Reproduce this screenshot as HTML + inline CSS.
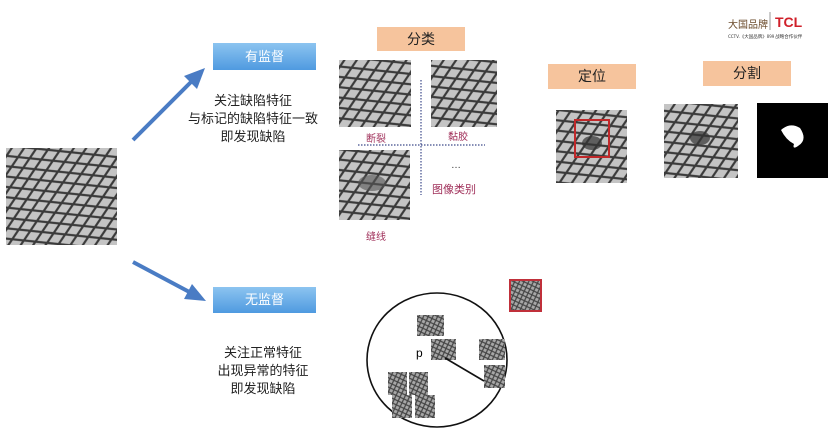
<!DOCTYPE html>
<html><head><meta charset="utf-8"><style>
body{margin:0;background:#fff;width:832px;height:440px;overflow:hidden;position:relative;font-family:"Liberation Sans","Noto Sans CJK SC",sans-serif}
.a{position:absolute}
.box{position:absolute;background:#f6c49d;text-align:center;font-size:14px;color:#222}
.blue{position:absolute;background:linear-gradient(#8cc4f0,#4f9ae0);color:#fff;text-align:center;font-size:13px}
.t{position:absolute;font-size:13px;color:#222;text-align:center;line-height:18px}
.lab{position:absolute;font-size:10px;color:#a0305a}
</style></head><body>
<svg class="a" style="left:0;top:0" width="832" height="440">
<defs>
<pattern id="m" width="20" height="12" patternUnits="userSpaceOnUse" patternTransform="rotate(-25)">
<rect width="20" height="12" fill="#c4c4c4"/>
<path d="M0 0L20 12M20 0L0 12M-10 6L0 12M20 12L30 6" stroke="#3a3a3a" stroke-width="2.2"/>
</pattern>
<pattern id="s" width="6" height="6" patternUnits="userSpaceOnUse" patternTransform="rotate(-20)">
<rect width="6" height="6" fill="#a8a8a8"/>
<path d="M0 0L6 6M6 0L0 6" stroke="#444" stroke-width="1.2"/>
</pattern>
</defs>
<rect x="6" y="148" width="111" height="97" fill="url(#m)"/>
<line x1="133" y1="140" x2="196" y2="77" stroke="#4a7cc4" stroke-width="4"/>
<polygon points="205,68 184,76 197,89" fill="#4a7cc4"/>
<line x1="133" y1="262" x2="195" y2="295" stroke="#4a7cc4" stroke-width="4"/>
<polygon points="206,301 184,299 192,284" fill="#4a7cc4"/>
<rect x="339" y="60" width="72" height="67" fill="url(#m)"/>
<rect x="431" y="60" width="66" height="67" fill="url(#m)"/>
<rect x="339" y="150" width="71" height="70" fill="url(#m)"/>
<ellipse cx="372" cy="183" rx="14" ry="8" fill="#555" opacity=".6"/>
<line x1="358" y1="145" x2="485" y2="145" stroke="#3d4a8a" stroke-width="1.2" stroke-dasharray="1.5,1.5"/>
<line x1="421" y1="80" x2="421" y2="195" stroke="#3d4a8a" stroke-width="1.2" stroke-dasharray="1.5,1.5"/>
<rect x="556" y="110" width="71" height="73" fill="url(#m)"/>
<ellipse cx="592" cy="143" rx="10" ry="7" fill="#333" opacity=".7"/>
<rect x="575" y="120" width="34" height="37" fill="none" stroke="#c0282a" stroke-width="2"/>
<rect x="664" y="104" width="74" height="74" fill="url(#m)"/>
<ellipse cx="700" cy="138" rx="10" ry="7" fill="#333" opacity=".7"/>
<rect x="757" y="103" width="71" height="75" fill="#000"/>
<path d="M781 130 Q790 122 800 128 Q808 140 798 146 Q792 150 794 144 Q786 140 781 130Z" fill="#fff"/>
<ellipse cx="437" cy="360" rx="70" ry="67" fill="none" stroke="#111" stroke-width="1.6"/>
<rect x="510" y="280" width="31" height="31" fill="url(#s)" stroke="#c0303a" stroke-width="2"/>
<rect x="417" y="315" width="27" height="21" fill="url(#s)"/>
<rect x="431" y="339" width="25" height="21" fill="url(#s)"/>
<rect x="479" y="339" width="26" height="21" fill="url(#s)"/>
<rect x="484" y="365" width="21" height="23" fill="url(#s)"/>
<rect x="388" y="372" width="19" height="23" fill="url(#s)"/>
<rect x="409" y="372" width="19" height="23" fill="url(#s)"/>
<rect x="392" y="395" width="20" height="23" fill="url(#s)"/>
<rect x="415" y="395" width="20" height="23" fill="url(#s)"/>
<line x1="445" y1="358" x2="484" y2="381" stroke="#111" stroke-width="1.6"/>
<text x="416" y="357" font-size="12" font-family="Liberation Sans">p</text>
<text x="728" y="28" font-size="10" fill="#6a4a2a" font-family="Noto Sans CJK SC">大国品牌</text>
<line x1="770" y1="12" x2="770" y2="30" stroke="#999"/>
<text x="775" y="27" font-size="14" font-weight="bold" fill="#d0202a" font-family="Liberation Sans">TCL</text>
<text x="728" y="38" font-size="4.5" fill="#333" font-family="Noto Sans CJK SC">CCTV.《大国品牌》899 战略合作伙伴</text>
</svg>
<div class="blue" style="left:213px;top:43px;width:103px;height:27px;line-height:27px">有监督</div>
<div class="blue" style="left:213px;top:287px;width:103px;height:26px;line-height:26px">无监督</div>
<div class="t" style="left:183px;top:92px;width:140px">关注缺陷特征<br>与标记的缺陷特征一致<br>即发现缺陷</div>
<div class="t" style="left:193px;top:344px;width:140px">关注正常特征<br>出现异常的特征<br>即发现缺陷</div>
<div class="box" style="left:377px;top:27px;width:88px;height:24px;line-height:24px">分类</div>
<div class="box" style="left:548px;top:64px;width:88px;height:25px;line-height:25px">定位</div>
<div class="box" style="left:703px;top:61px;width:88px;height:25px;line-height:25px">分割</div>
<div class="lab" style="left:366px;top:130px">断裂</div>
<div class="lab" style="left:448px;top:128px">黏胶</div>
<div class="lab" style="left:366px;top:228px">缝线</div>
<div class="lab" style="left:451px;top:160px;color:#333">…</div>
<div class="lab" style="left:432px;top:181px;font-size:11px">图像类别</div>
</body></html>
